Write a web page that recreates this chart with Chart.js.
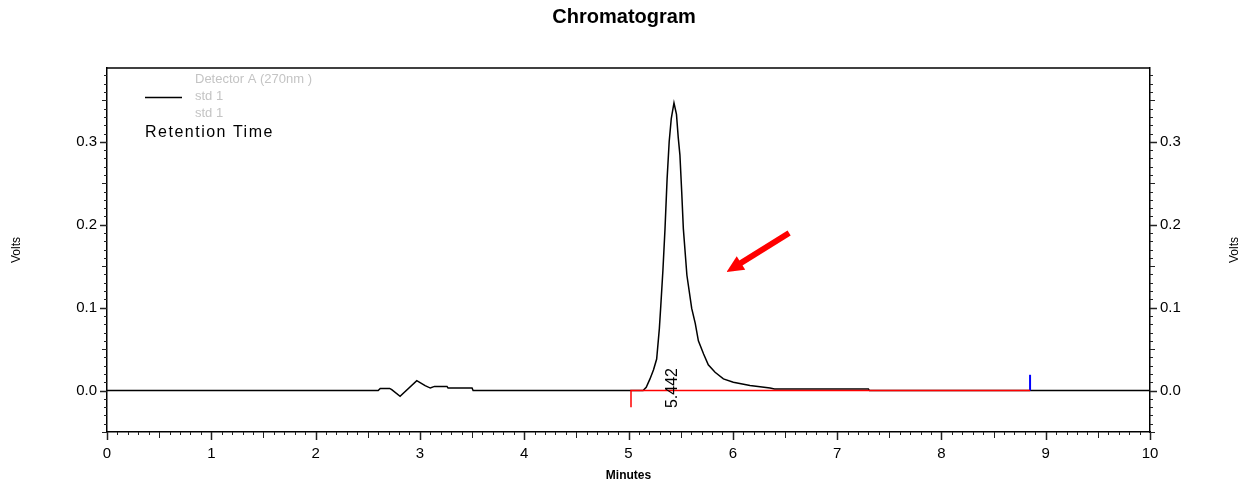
<!DOCTYPE html>
<html>
<head>
<meta charset="utf-8">
<script src="https://cdn.jsdelivr.net/npm/chart.js@4.4.1/dist/chart.umd.min.js"></script>
<style>
html, body { margin: 0; padding: 0; background: #fff; }
</style>
</head>
<body>
<canvas id="grafico" width="1248" height="487"></canvas>
<script>
const tempos = [0, 2.60, 2.62, 2.71, 2.73, 2.81, 2.97, 3.05, 3.10, 3.14, 3.26, 3.27, 3.50, 3.51,
    5.14, 5.17, 5.206, 5.24, 5.27, 5.296, 5.31, 5.33, 5.35, 5.37, 5.39, 5.41, 5.436,
    5.46, 5.477, 5.493, 5.51, 5.526, 5.56, 5.606, 5.64, 5.67, 5.72, 5.765, 5.83, 5.91,
    6.005, 6.165, 6.357, 6.40, 7.30, 7.31, 10];
const volts = [0, 0, 0.0025, 0.0025, 0.001, -0.007, 0.012, 0.006, 0.003, 0.005, 0.005, 0.003, 0.003, 0,
    0, 0.004, 0.014, 0.025, 0.038, 0.075, 0.103, 0.145, 0.195, 0.255, 0.300, 0.328, 0.347,
    0.333, 0.305, 0.284, 0.240, 0.195, 0.139, 0.099, 0.081, 0.060, 0.044, 0.031, 0.022, 0.014,
    0.010, 0.006, 0.003, 0.002, 0.002, 0, 0];

const linhaBaseTempos = [5.024, 5.024, 8.85];
const linhaBaseVolts = [-0.02, 0, 0];
const fimPicoTempos = [8.85, 8.85];
const fimPicoVolts = [0, 0.019];

const picoTempo = 5.42;
const picoRotulo = '5.442';

const legendaLinhas = ['Detector A (270nm )', 'std 1', 'std 1'];
const legendaRetencao = 'Retention Time';

const ticksX = [0, 1, 2, 3, 4, 5, 6, 7, 8, 9, 10];
const ticksY = [0.0, 0.1, 0.2, 0.3];

function pares(xs, ys) {
    return xs.map((x, i) => ({ x: x, y: ys[i] }));
}

const fonte = "'Liberation Sans', Arial, sans-serif";

// marcas menores, moldura e anotações
const marcas = {
    id: 'marcas',
    afterDraw(chart) {
        const ctx = chart.ctx;
        const xs = chart.scales.x;
        const ys = chart.scales.y;
        const area = chart.chartArea;
        ctx.save();

        ctx.strokeStyle = '#000';
        ctx.lineWidth = 1.5;
        ctx.beginPath();
        ctx.moveTo(area.left, area.top);
        ctx.lineTo(area.right, area.top);
        ctx.stroke();

        ctx.strokeStyle = '#222';
        for (let i = -5; i <= 38; i++) {
            const py = Math.round(ys.getPixelForValue(i / 100)) + 0.5;
            let len = 3;
            ctx.lineWidth = 1;
            if (i % 10 === 0) { len = 7; ctx.lineWidth = 1.5; }
            else if (i % 5 === 0) len = 5;
            ctx.beginPath();
            ctx.moveTo(area.left, py); ctx.lineTo(area.left - len, py);
            ctx.moveTo(area.right, py); ctx.lineTo(area.right + len, py);
            ctx.stroke();
        }
        for (let i = 0; i <= 100; i++) {
            const px = Math.round(xs.getPixelForValue(i / 10)) + 0.5;
            let len = 3;
            ctx.lineWidth = 1;
            if (i % 10 === 0) { len = 8; ctx.lineWidth = 1.5; }
            else if (i % 5 === 0) len = 6;
            ctx.beginPath();
            ctx.moveTo(px, area.bottom); ctx.lineTo(px, area.bottom + len);
            ctx.stroke();
        }

        // legenda
        ctx.lineWidth = 1.5;
        ctx.strokeStyle = '#000';
        ctx.beginPath();
        ctx.moveTo(area.left + 38, area.top + 29.5);
        ctx.lineTo(area.left + 75, area.top + 29.5);
        ctx.stroke();
        ctx.fillStyle = '#c4c4c4';
        ctx.font = '13px ' + fonte;
        ctx.textBaseline = 'middle';
        ctx.textAlign = 'left';
        legendaLinhas.forEach((t, i) => ctx.fillText(t, area.left + 88, area.top + 11 + i * 17));
        ctx.fillStyle = '#000';
        ctx.font = '16px ' + fonte;
        if ('letterSpacing' in ctx) ctx.letterSpacing = '1.5px';
        ctx.fillText(legendaRetencao, area.left + 38, area.top + 65);
        if ('letterSpacing' in ctx) ctx.letterSpacing = '0px';

        // rótulo do pico
        ctx.save();
        ctx.translate(xs.getPixelForValue(picoTempo), ys.getPixelForValue(0.003));
        ctx.rotate(-Math.PI / 2);
        ctx.font = '16px ' + fonte;
        ctx.textAlign = 'center';
        ctx.fillText(picoRotulo, 0, 0);
        ctx.restore();

        // seta vermelha
        const x1 = xs.getPixelForValue(6.54), y1 = ys.getPixelForValue(0.190);
        const x2 = xs.getPixelForValue(5.94), y2 = ys.getPixelForValue(0.143);
        const ang = Math.atan2(y2 - y1, x2 - x1);
        const cabeca = 17;
        ctx.strokeStyle = '#ff0000';
        ctx.fillStyle = '#ff0000';
        ctx.lineWidth = 6;
        ctx.beginPath();
        ctx.moveTo(x1, y1);
        ctx.lineTo(x2 - Math.cos(ang) * cabeca * 0.8, y2 - Math.sin(ang) * cabeca * 0.8);
        ctx.stroke();
        ctx.beginPath();
        ctx.moveTo(x2, y2);
        ctx.lineTo(x2 - cabeca * Math.cos(ang) + 8 * Math.sin(ang), y2 - cabeca * Math.sin(ang) - 8 * Math.cos(ang));
        ctx.lineTo(x2 - cabeca * Math.cos(ang) - 8 * Math.sin(ang), y2 - cabeca * Math.sin(ang) + 8 * Math.cos(ang));
        ctx.closePath();
        ctx.fill();

        // título do eixo direito
        ctx.save();
        ctx.translate(1235, (area.top + area.bottom) / 2);
        ctx.rotate(-Math.PI / 2);
        ctx.fillStyle = '#000';
        ctx.font = '12px ' + fonte;
        ctx.textAlign = 'center';
        ctx.fillText('Volts', 0, 0);
        ctx.restore();

        ctx.restore();
    }
};

function rotuloY(v) {
    const achou = ticksY.find(t => Math.abs(t - v) < 1e-6);
    return achou === undefined ? '' : achou.toFixed(1);
}

const eixoY = {
    min: -0.05,
    max: 0.389,
    ticks: {
        stepSize: 0.1,
        color: '#000',
        padding: 3,
        font: { size: 15, family: fonte },
        callback: rotuloY
    },
    grid: { drawOnChartArea: false, drawTicks: true, tickLength: 7, tickColor: 'transparent' },
    border: { display: true, color: '#000', width: 1.5 }
};

var grafico = new Chart(document.getElementById('grafico').getContext('2d'), {
    type: 'line',
    data: {
        datasets: [{
            label: 'baseline',
            data: pares(linhaBaseTempos, linhaBaseVolts),
            borderColor: '#ff0000',
            borderWidth: 1.5,
            pointRadius: 0,
            order: 0
        }, {
            label: 'end',
            data: pares(fimPicoTempos, fimPicoVolts),
            borderColor: '#0000ff',
            borderWidth: 2,
            pointRadius: 0,
            order: 0
        }, {
            label: 'std 1',
            data: pares(tempos, volts),
            borderColor: '#000',
            borderWidth: 1.5,
            pointRadius: 0,
            tension: 0,
            order: 1
        }]
    },
    options: {
        responsive: false,
        animation: false,
        layout: { padding: 0 },
        scales: {
            x: {
                type: 'linear',
                position: 'bottom',
                min: 0,
                max: 10,
                afterBuildTicks: (s) => { s.ticks = ticksX.map(v => ({ value: v })); },
                afterFit: (s) => { s.height = 55; },
                ticks: {
                    color: '#000',
                    padding: 5,
                    maxRotation: 0,
                    autoSkip: false,
                    font: { size: 15, family: fonte },
                    callback: (v) => String(v)
                },
                grid: { drawOnChartArea: false, drawTicks: true, tickLength: 8, tickColor: 'transparent' },
                border: { display: true, color: '#000', width: 1.5 },
                title: {
                    display: true,
                    text: 'Minutes',
                    color: '#000',
                    padding: { top: 0, bottom: 4 },
                    font: { size: 12, weight: 'bold', family: fonte }
                }
            },
            y: Object.assign({}, eixoY, {
                position: 'left',
                afterFit: (s) => { s.width = 107; },
                title: {
                    display: true,
                    text: 'Volts',
                    color: '#000',
                    padding: { top: 9, bottom: 0 },
                    font: { size: 12, family: fonte }
                }
            }),
            y2: Object.assign({}, eixoY, {
                position: 'right',
                afterFit: (s) => { s.width = 98; }
            })
        },
        plugins: {
            legend: { display: false },
            tooltip: { enabled: false },
            title: {
                display: true,
                text: 'Chromatogram',
                color: '#000',
                padding: { top: 5, bottom: 39 },
                font: { size: 20, weight: 'bold', family: fonte }
            }
        }
    },
    plugins: [marcas]
});
</script>
</body>
</html>
